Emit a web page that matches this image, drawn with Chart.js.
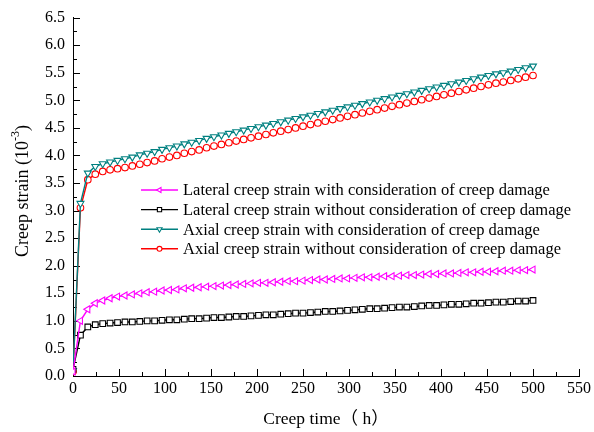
<!DOCTYPE html>
<html>
<head>
<meta charset="utf-8">
<script src="https://cdn.jsdelivr.net/npm/chart.js@4.4.1/dist/chart.umd.min.js"></script>
<style>
  html, body { margin: 0; padding: 0; background: #fff; }
  #wrap { width: 594px; height: 432px; position: relative; }
</style>
</head>
<body>
<div id="wrap"><canvas id="chart" width="594" height="432"></canvas></div>
<script>
// ======================
// Data
// ======================
// creep time (h)
const creepTime = [
  0, 8.1, 16.1, 24.2, 32.3, 40.3, 48.4, 56.5, 64.5, 72.6, 80.6, 88.7, 96.8, 104.8,
  112.9, 121.0, 129.0, 137.1, 145.2, 153.2, 161.3, 169.4, 177.4, 185.5, 193.5, 201.6,
  209.7, 217.7, 225.8, 233.9, 241.9, 250.0, 258.1, 266.1, 274.2, 282.3, 290.3, 298.4,
  306.5, 314.5, 322.6, 330.6, 338.7, 346.8, 354.8, 362.9, 371.0, 379.0, 387.1, 395.2,
  403.2, 411.3, 419.4, 427.4, 435.5, 443.5, 451.6, 459.7, 467.7, 475.8, 483.9, 491.9, 500.0
];

// creep strain (10^-3)
const lateralWithDamage = [
  0.08, 1.00, 1.21, 1.32, 1.37, 1.41, 1.44, 1.46, 1.48, 1.50, 1.52, 1.53, 1.55, 1.56,
  1.57, 1.59, 1.60, 1.61, 1.62, 1.63, 1.64, 1.65, 1.66, 1.67, 1.68, 1.69,
  1.69, 1.70, 1.71, 1.72, 1.72, 1.73, 1.74, 1.75, 1.75, 1.76, 1.77, 1.77,
  1.78, 1.79, 1.79, 1.80, 1.81, 1.81, 1.82, 1.83, 1.83, 1.84, 1.85, 1.85,
  1.86, 1.86, 1.87, 1.88, 1.88, 1.89, 1.89, 1.90, 1.91, 1.91, 1.92, 1.92, 1.93
];
const lateralNoDamage = [
  0.12, 0.74, 0.89, 0.93, 0.95, 0.96, 0.97, 0.98, 0.98, 0.99, 1.00, 1.00, 1.01, 1.02,
  1.02, 1.03, 1.04, 1.04, 1.05, 1.06, 1.06, 1.07, 1.08, 1.08, 1.09, 1.10,
  1.11, 1.11, 1.12, 1.13, 1.14, 1.14, 1.15, 1.16, 1.17, 1.17, 1.18, 1.19,
  1.20, 1.21, 1.22, 1.22, 1.23, 1.24, 1.25, 1.25, 1.26, 1.27, 1.28, 1.28,
  1.29, 1.30, 1.30, 1.31, 1.32, 1.32, 1.33, 1.34, 1.34, 1.35, 1.36, 1.36, 1.37
];
const axialWithDamage = [
  0.10, 3.13, 3.68, 3.80, 3.85, 3.88, 3.91, 3.94, 3.97, 4.01, 4.04, 4.07, 4.11, 4.14,
  4.17, 4.21, 4.24, 4.27, 4.31, 4.34, 4.37, 4.40, 4.43, 4.46, 4.49, 4.52,
  4.55, 4.58, 4.61, 4.64, 4.67, 4.70, 4.73, 4.76, 4.79, 4.82, 4.85, 4.88,
  4.91, 4.94, 4.97, 5.00, 5.03, 5.06, 5.09, 5.12, 5.15, 5.18, 5.21, 5.24,
  5.27, 5.30, 5.33, 5.36, 5.39, 5.42, 5.45, 5.48, 5.50, 5.53, 5.56, 5.59, 5.62
];
const axialNoDamage = [
  0.08, 3.05, 3.56, 3.66, 3.71, 3.74, 3.76, 3.78, 3.81, 3.84, 3.87, 3.90, 3.94, 3.97,
  4.00, 4.04, 4.07, 4.10, 4.14, 4.17, 4.20, 4.23, 4.26, 4.29, 4.32, 4.35,
  4.38, 4.41, 4.44, 4.47, 4.50, 4.53, 4.56, 4.59, 4.62, 4.65, 4.68, 4.71,
  4.74, 4.77, 4.80, 4.83, 4.86, 4.89, 4.92, 4.95, 4.98, 5.01, 5.04, 5.07,
  5.10, 5.13, 5.16, 5.19, 5.22, 5.25, 5.28, 5.31, 5.33, 5.36, 5.39, 5.42, 5.45
];

const seriesNames = [
  "Lateral creep strain with consideration of creep damage",
  "Lateral creep strain without consideration of creep damage",
  "Axial creep strain with consideration of creep damage",
  "Axial creep strain without consideration of creep damage"
];

// axis ranges / ticks
const xMin = 0, xMax = 550, xStep = 50, xMinorStep = 25;
const yMin = 0, yMax = 6.5, yStep = 0.5, yMinorStep = 0.25;
const xTitle = "Creep time（ h）";

const FONT = "'Liberation Serif', 'Times New Roman', 'Noto Sans CJK SC', serif";

// ======================
// Helpers
// ======================
function toPoints(ys) {
  return ys.map((y, i) => ({ x: creepTime[i], y }));
}

function makeSet(label, values, color, style, rotation, radius) {
  return {
    label,
    data: toPoints(values),
    borderColor: color,
    backgroundColor: color,
    borderWidth: 1.4,
    tension: 0,
    pointStyle: style,
    pointRotation: rotation,
    pointRadius: radius,
    pointBorderColor: color,
    pointBackgroundColor: "#fff",
    pointBorderWidth: 1.1
  };
}

// ======================
// Plugins
// ======================
// inward major/minor tick marks
const inwardTicks = {
  id: "inwardTicks",
  beforeDatasetsDraw(chart) {
    const { ctx, chartArea: a, scales: { x, y } } = chart;
    ctx.save();
    ctx.strokeStyle = "#000";
    ctx.lineWidth = 1;
    ctx.beginPath();
    for (let v = xMin; v <= xMax + 1e-6; v += xMinorStep) {
      const px = Math.round(x.getPixelForValue(v)) + 0.5;
      const len = (Math.abs(v / xStep - Math.round(v / xStep)) < 1e-6) ? 7 : 4;
      ctx.moveTo(px, a.bottom);
      ctx.lineTo(px, a.bottom - len);
    }
    for (let v = yMin; v <= yMax + 1e-6; v += yMinorStep) {
      const py = Math.round(y.getPixelForValue(v)) + 0.5;
      const len = (Math.abs(v / yStep - Math.round(v / yStep)) < 1e-6) ? 7 : 4;
      ctx.moveTo(a.left, py);
      ctx.lineTo(a.left + len, py);
    }
    ctx.stroke();
    ctx.restore();
  }
};

// y title with superscript exponent
const yTitle = {
  id: "yTitle",
  afterDraw(chart) {
    const { ctx } = chart;
    const main = "Creep strain (10";
    const sup = "-3";
    const tail = ")";
    const big = `18px ${FONT}`, small = `12px ${FONT}`;
    ctx.save();
    ctx.translate(22, 191);
    ctx.rotate(-Math.PI / 2);
    ctx.fillStyle = "#000";
    ctx.textBaseline = "middle";
    ctx.font = big;
    const w1 = ctx.measureText(main).width;
    const w3 = ctx.measureText(tail).width;
    ctx.font = small;
    const w2 = ctx.measureText(sup).width;
    let cx = -(w1 + w2 + w3) / 2;
    ctx.font = big;
    ctx.fillText(main, cx, 1);
    cx += w1;
    ctx.font = small;
    ctx.fillText(sup, cx, -6);
    cx += w2;
    ctx.font = big;
    ctx.fillText(tail, cx, 1);
    ctx.restore();
  }
};

// legend box inside the plot
const innerLegend = {
  id: "innerLegend",
  afterDraw(chart) {
    const { ctx } = chart;
    const x0 = 141, x1 = 178, tx = 183, top = 190, gap = 19.6;
    ctx.save();
    chart.data.datasets.forEach((ds, i) => {
      const yy = top + i * gap;
      ctx.strokeStyle = ds.borderColor;
      ctx.lineWidth = 1.4;
      ctx.beginPath();
      ctx.moveTo(x0, yy);
      ctx.lineTo(x1, yy);
      ctx.stroke();
      ctx.fillStyle = "#fff";
      ctx.lineWidth = 1.1;
      Chart.helpers.drawPoint(ctx, {
        pointStyle: ds.pointStyle,
        rotation: ds.pointRotation,
        radius: ds.pointRadius * 0.75,
        borderWidth: 1.1
      }, (x0 + x1) / 2, yy);
      ctx.fillStyle = "#000";
      ctx.font = `16.5px ${FONT}`;
      ctx.textBaseline = "middle";
      ctx.fillText(ds.label, tx, yy + 1);
    });
    ctx.restore();
  }
};

// ======================
// Chart
// ======================
const datasets = [
  makeSet(seriesNames[0], lateralWithDamage, "#ff00ff", "triangle", 270, 4),
  makeSet(seriesNames[1], lateralNoDamage, "#000000", "rect", 0, 4),
  makeSet(seriesNames[2], axialWithDamage, "#008080", "triangle", 180, 4),
  makeSet(seriesNames[3], axialNoDamage, "#ff0000", "circle", 0, 3.3)
];

new Chart(document.getElementById("chart"), {
  type: "line",
  data: { datasets },
  plugins: [inwardTicks, yTitle, innerLegend],
  options: {
    responsive: false,
    animation: false,
    layout: { padding: { top: 17, right: 12, left: 0, bottom: 0 } },
    plugins: { legend: { display: false }, tooltip: { enabled: false } },
    scales: {
      x: {
        type: "linear",
        min: xMin, max: xMax,
        grid: { display: true, drawOnChartArea: false, drawTicks: false },
        border: { display: true, color: "#000", width: 1 },
        ticks: {
          stepSize: xStep, padding: 3, color: "#000", maxRotation: 0,
          font: { family: FONT, size: 16 }
        },
        title: {
          display: true, text: xTitle, color: "#000",
          font: { family: FONT, size: 17.5 }, padding: { top: 0, bottom: 2 }
        },
        afterFit(s) { s.height = 56; }
      },
      y: {
        min: yMin, max: yMax,
        grid: { display: true, drawOnChartArea: false, drawTicks: false },
        border: { display: true, color: "#000", width: 1 },
        ticks: {
          stepSize: yStep, padding: 8, color: "#000",
          font: { family: FONT, size: 16 },
          callback: v => Number(v).toFixed(1)
        },
        afterFit(s) { s.width = 73; }
      }
    }
  }
});
</script>
</body>
</html>
